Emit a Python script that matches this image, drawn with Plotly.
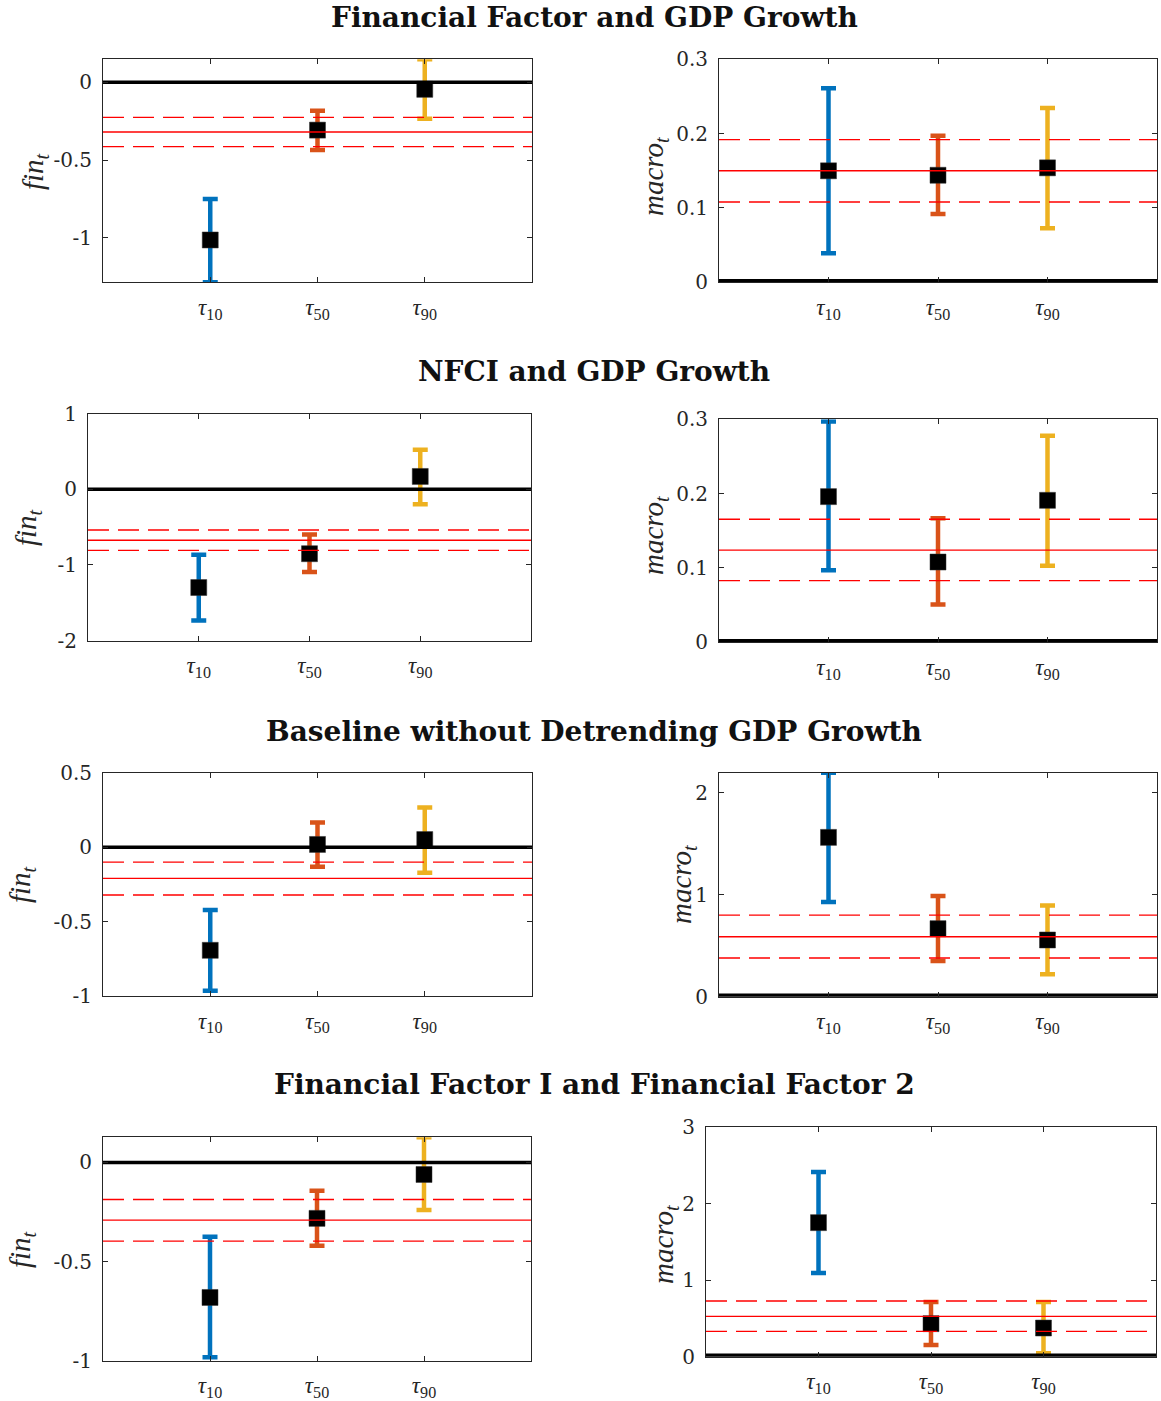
import plotly.graph_objects as go

W, H = 1161, 1401

# Quantile positions on the x axis and their labels
TAU_POS = [1, 2, 3]
TAU_LABELS = ["<i>τ</i><sub>10</sub>", "<i>τ</i><sub>50</sub>", "<i>τ</i><sub>90</sub>"]
BAR_COLORS = ["#0072BD", "#D95319", "#EDB120"]

# ---- Financial Factor and GDP Growth ----
ff_fin_est = [-1.013, -0.307, -0.045]
ff_fin_hi = [-0.750, -0.182, 0.148]
ff_fin_lo = [-1.285, -0.435, -0.234]
ff_fin_ols = [-0.319, -0.225, -0.413]        # OLS estimate, upper, lower

ff_mac_est = [0.150, 0.144, 0.154]
ff_mac_hi = [0.261, 0.197, 0.2345]
ff_mac_lo = [0.039, 0.092, 0.0726]
ff_mac_ols = [0.150, 0.192, 0.108]

# ---- NFCI and GDP Growth ----
nf_fin_est = [-1.30, -0.853, 0.168]
nf_fin_hi = [-0.866, -0.600, 0.521]
nf_fin_lo = [-1.737, -1.096, -0.199]
nf_fin_ols = [-0.676, -0.539, -0.809]

nf_mac_est = [0.196, 0.108, 0.191]
nf_mac_hi = [0.297, 0.167, 0.278]
nf_mac_lo = [0.097, 0.051, 0.103]
nf_mac_ols = [0.124, 0.1655, 0.083]

# ---- Baseline without Detrending GDP Growth ----
bl_fin_est = [-0.693, 0.018, 0.051]
bl_fin_hi = [-0.423, 0.166, 0.266]
bl_fin_lo = [-0.964, -0.132, -0.172]
bl_fin_ols = [-0.210, -0.101, -0.322]

bl_mac_est = [1.562, 0.667, 0.556]
bl_mac_hi = [2.196, 0.987, 0.895]
bl_mac_lo = [0.928, 0.350, 0.219]
bl_mac_ols = [0.588, 0.800, 0.379]

# ---- Financial Factor I and Financial Factor 2 ----
f2_fin_est = [-0.681, -0.282, -0.0605]
f2_fin_hi = [-0.375, -0.143, 0.127]
f2_fin_lo = [-0.983, -0.420, -0.240]
f2_fin_ols = [-0.291, -0.187, -0.397]

f2_mac_est = [1.753, 0.432, 0.375]
f2_mac_hi = [2.416, 0.715, 0.715]
f2_mac_lo = [1.095, 0.153, 0.044]
f2_mac_ols = [0.528, 0.728, 0.331]

TITLES = [
    "Financial Factor and GDP Growth",
    "NFCI and GDP Growth",
    "Baseline without Detrending GDP Growth",
    "Financial Factor I and Financial Factor 2",
]
FIN_LABEL = "<i>fin</i><sub><i>t</i></sub>"
MAC_LABEL = "<i>macro</i><sub><i>t</i></sub>"

# panel: data, y range, y ticks, box in pixels (x0, x1, y0, y1), y-label pixel position
panels = [
    dict(est=ff_fin_est, hi=ff_fin_hi, lo=ff_fin_lo, ols=ff_fin_ols,
         yr=[-1.285, 0.148], yt=[-1, -0.5, 0], ytt=["-1", "-0.5", "0"],
         box=(103, 532, 59.3, 282.3), lab=FIN_LABEL, labpos=(35, 171)),
    dict(est=ff_mac_est, hi=ff_mac_hi, lo=ff_mac_lo, ols=ff_mac_ols,
         yr=[0, 0.3], yt=[0, 0.1, 0.2, 0.3], ytt=["0", "0.1", "0.2", "0.3"],
         box=(719, 1157, 59.3, 282.3), lab=MAC_LABEL, labpos=(655, 176)),
    dict(est=nf_fin_est, hi=nf_fin_hi, lo=nf_fin_lo, ols=nf_fin_ols,
         yr=[-2, 1], yt=[-2, -1, 0, 1], ytt=["-2", "-1", "0", "1"],
         box=(88, 531, 413.5, 640.5), lab=FIN_LABEL, labpos=(28, 527)),
    dict(est=nf_mac_est, hi=nf_mac_hi, lo=nf_mac_lo, ols=nf_mac_ols,
         yr=[0, 0.3], yt=[0, 0.1, 0.2, 0.3], ytt=["0", "0.1", "0.2", "0.3"],
         box=(719, 1157, 419.3, 642.3), lab=MAC_LABEL, labpos=(655, 535)),
    dict(est=bl_fin_est, hi=bl_fin_hi, lo=bl_fin_lo, ols=bl_fin_ols,
         yr=[-1, 0.5], yt=[-1, -0.5, 0, 0.5], ytt=["-1", "-0.5", "0", "0.5"],
         box=(103, 532, 772.7, 996), lab=FIN_LABEL, labpos=(22, 884)),
    dict(est=bl_mac_est, hi=bl_mac_hi, lo=bl_mac_lo, ols=bl_mac_ols,
         yr=[0, 2.196], yt=[0, 1, 2], ytt=["0", "1", "2"],
         box=(719, 1157, 772.7, 996.7), lab=MAC_LABEL, labpos=(683, 884)),
    dict(est=f2_fin_est, hi=f2_fin_hi, lo=f2_fin_lo, ols=f2_fin_ols,
         yr=[-1, 0.127], yt=[-1, -0.5, 0], ytt=["-1", "-0.5", "0"],
         box=(103, 531, 1137.3, 1360.7), lab=FIN_LABEL, labpos=(22, 1249)),
    dict(est=f2_mac_est, hi=f2_mac_hi, lo=f2_mac_lo, ols=f2_mac_ols,
         yr=[0, 3], yt=[0, 1, 2, 3], ytt=["0", "1", "2", "3"],
         box=(706, 1156, 1127.3, 1356.7), lab=MAC_LABEL, labpos=(665, 1244)),
]
TITLE_Y = [18, 371, 731, 1084]

AX_COLOR = "#262626"
SERIF = "DejaVu Serif, serif"
TAU_FONT = "Liberation Serif, DejaVu Serif, serif"

fig = go.Figure()
layout = {}

for k, p in enumerate(panels, start=1):
    xa = "x" if k == 1 else f"x{k}"
    ya = "y" if k == 1 else f"y{k}"
    x0, x1, y0, y1 = p["box"]

    # interval estimates at each quantile
    for i in range(3):
        fig.add_trace(go.Scatter(
            x=[TAU_POS[i]], y=[p["est"][i]], xaxis=xa, yaxis=ya,
            mode="markers", cliponaxis=False, showlegend=False,
            marker=dict(symbol="square", size=16, color="black",
                        line=dict(width=0.5, color="#333333")),
            error_y=dict(type="data", symmetric=False,
                         array=[p["hi"][i] - p["est"][i]],
                         arrayminus=[p["est"][i] - p["lo"][i]],
                         color=BAR_COLORS[i], thickness=4.5, width=7.5),
        ))

    # zero reference line (half of it is clipped when it sits on the axis edge)
    zero_w = 6.5 if p["yr"][0] == 0 else 3.5
    fig.add_trace(go.Scatter(
        x=[0, 4], y=[0, 0], xaxis=xa, yaxis=ya, mode="lines",
        line=dict(color="black", width=zero_w), showlegend=False, hoverinfo="skip",
    ))

    # OLS estimate with confidence bounds
    mid, up, dn = p["ols"]
    fig.add_trace(go.Scatter(
        x=[0, 4], y=[mid, mid], xaxis=xa, yaxis=ya, mode="lines",
        line=dict(color="#FF0000", width=1.4), showlegend=False, hoverinfo="skip",
    ))
    for v in (up, dn):
        fig.add_trace(go.Scatter(
            x=[0, 4], y=[v, v], xaxis=xa, yaxis=ya, mode="lines",
            line=dict(color="#FF0000", width=1.4, dash="21px,9px"),
            showlegend=False, hoverinfo="skip",
        ))

    axis_common = dict(
        showgrid=False, zeroline=False, showline=True, linecolor=AX_COLOR,
        linewidth=1, mirror="ticks", ticks="inside", ticklen=5,
        tickcolor=AX_COLOR, tickwidth=1, automargin=False,
    )
    layout["xaxis" if k == 1 else f"xaxis{k}"] = dict(
        domain=[x0 / W, x1 / W], anchor=ya, range=[0, 4],
        tickvals=TAU_POS, ticktext=TAU_LABELS, ticklabelstandoff=4,
        tickfont=dict(family=TAU_FONT, size=23, color=AX_COLOR),
        **axis_common,
    )
    layout["yaxis" if k == 1 else f"yaxis{k}"] = dict(
        domain=[1 - y1 / H, 1 - y0 / H], anchor=xa, range=p["yr"],
        tickvals=p["yt"], ticktext=p["ytt"], ticklabelstandoff=6,
        tickfont=dict(family=SERIF, size=20, color=AX_COLOR),
        **axis_common,
    )

annotations = []
for t, ty in zip(TITLES, TITLE_Y):
    annotations.append(dict(
        text=f"<b>{t}</b>", x=594 / W, y=1 - ty / H, xref="paper", yref="paper",
        xanchor="center", yanchor="middle", showarrow=False,
        font=dict(family="DejaVu Serif", size=28, color="#111111"),
    ))
for p in panels:
    lx, ly = p["labpos"]
    annotations.append(dict(
        text=p["lab"], x=lx / W, y=1 - ly / H, xref="paper", yref="paper",
        xanchor="center", yanchor="middle", showarrow=False, textangle=-90,
        font=dict(family=TAU_FONT, size=29, color=AX_COLOR),
    ))

fig.update_layout(
    width=W, height=H, margin=dict(l=0, r=0, t=0, b=0, autoexpand=False),
    paper_bgcolor="white", plot_bgcolor="white",
    annotations=annotations, **layout,
)

fig.write_html("out.html")
